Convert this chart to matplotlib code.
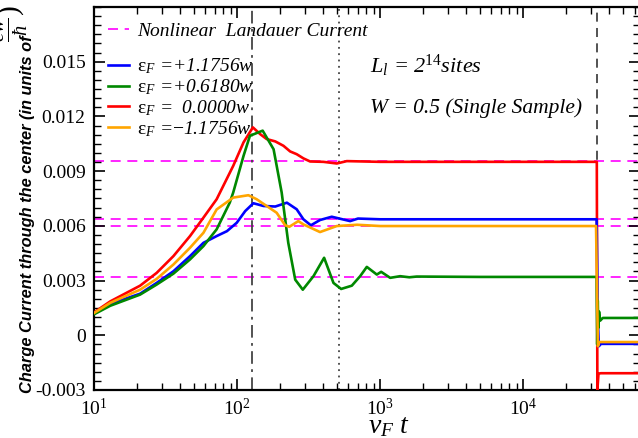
import matplotlib
matplotlib.use('Agg')
import matplotlib.pyplot as plt
from matplotlib.lines import Line2D
from matplotlib.ticker import MultipleLocator, LogLocator, NullFormatter

plt.rcParams['font.family'] = 'Liberation Serif'
plt.rcParams['mathtext.fontset'] = 'custom'
plt.rcParams['mathtext.rm'] = 'Liberation Serif'
plt.rcParams['mathtext.it'] = 'Liberation Serif:italic'
plt.rcParams['mathtext.bf'] = 'Liberation Sans:bold:italic'

# values (time in units of 1/v_F, current in e w / hbar)
t_red = [10, 13, 21, 27.4, 35.9, 46.9, 58.2, 72, 94, 111, 129, 145, 161, 185, 211, 235,
         261, 291, 324, 401, 498, 585, 1000, 5000, 32700, 33000, 33600, 35000, 65536]
i_red = [0.00125, 0.00186, 0.00272, 0.00342, 0.00434, 0.00544, 0.00645, 0.00746, 0.00929,
         0.01058, 0.0114, 0.01103, 0.01076, 0.01063, 0.01039, 0.01008, 0.00993, 0.0097,
         0.00953, 0.00951, 0.00942, 0.00955, 0.00951, 0.00951, 0.00951, -0.0030, -0.0021,
         -0.00208, -0.00208]

t_green = [10, 13, 21, 27.4, 35.9, 46.9, 58.2, 72, 80, 89, 94, 111, 123, 151, 180, 205, 228,
           255, 288, 342, 406, 472, 534, 634, 725, 807, 948, 1017, 1175, 1380, 1600, 1800,
           5000, 32600, 32900, 33200, 33500, 33900, 34500, 36000, 65536]
i_green = [0.00115, 0.00162, 0.00223, 0.00278, 0.00338, 0.00416, 0.00489, 0.00581, 0.00654,
           0.00728, 0.00783, 0.00984, 0.01094, 0.01122, 0.0102, 0.00783, 0.00507, 0.00305,
           0.0025, 0.00324, 0.00425, 0.00287, 0.00254, 0.00272, 0.00324, 0.00375, 0.00333,
           0.00348, 0.00315, 0.00324, 0.00318, 0.00322, 0.0032, 0.0032, -0.0005, 0.0019,
           0.0004, 0.0013, 0.0008, 0.00095, 0.00095]

t_blue = [10, 13, 21, 27.4, 35.9, 46.9, 58.2, 65, 72, 85, 99.5, 114, 130, 153, 185, 223,
          261, 291, 328, 380, 459, 617, 700, 1000, 5000, 32600, 33200, 33800, 35000, 65536]
i_blue = [0.0012, 0.00172, 0.00228, 0.00287, 0.00351, 0.00434, 0.00507, 0.00526, 0.00544,
          0.00571, 0.00617, 0.00681, 0.00724, 0.00709, 0.00706, 0.00727, 0.00691, 0.00636,
          0.00603, 0.00632, 0.0065, 0.00626, 0.0064, 0.00636, 0.00636, 0.00636, 0.0010,
          -0.0006, -0.00047, -0.00047]

t_orange = [10, 13, 21, 27.4, 35.9, 46.9, 58.2, 72, 94, 120, 137, 161, 189, 217, 232, 268,
            291, 380, 498, 690, 1000, 5000, 32300, 32700, 33300, 34000, 65536]
i_orange = [0.00122, 0.00178, 0.0025, 0.00309, 0.00388, 0.0048, 0.00562, 0.0069, 0.00755,
            0.00768, 0.00746, 0.00709, 0.00672, 0.00603, 0.00595, 0.00626, 0.00608, 0.00566,
            0.00599, 0.00606, 0.00599, 0.00599, 0.00599, 0.0032, -0.0006, -0.00037, -0.00037]

landauer = [0.00953, 0.00636, 0.00599, 0.00320]
labels = [r'$\mathrm{ε}_{\mathit{F}}$ =+1.1756w', r'$\mathrm{ε}_{\mathit{F}}$ =+0.6180w',
          r'$\mathrm{ε}_{\mathit{F}}$ =  0.0000w', r'$\mathrm{ε}_{\mathit{F}}$ =$-$1.1756w']
t_marks = [128, 512, 32768]

fig = plt.figure(figsize=(6.38, 4.38), dpi=100)
ax = fig.add_axes([94 / 638, 1 - 390 / 438, 546 / 638, 383 / 438])

for y in landauer:
    ax.axhline(y, color='#ff00ff', lw=1.2, dashes=(6, 4), zorder=1)
ax.axvline(t_marks[0], color='#444444', lw=1.3, dashes=(7, 3, 1.5, 3), zorder=1)
ax.axvline(t_marks[1], color='#444444', lw=1.3, dashes=(1, 2.5), zorder=1)
ax.axvline(t_marks[2], color='#444444', lw=1.3, dashes=(5, 3.5), zorder=1)

ax.plot(t_blue, i_blue, color='#0000ff', lw=1.9, zorder=3)
ax.plot(t_green, i_green, color='#008800', lw=1.9, zorder=3)
ax.plot(t_orange, i_orange, color='#ffa500', lw=1.9, zorder=3)
ax.plot(t_red, i_red, color='#ff0000', lw=1.9, zorder=2.9)

ax.set_xscale('log')
ax.set_xlim(10, 65536)
ax.set_ylim(-0.003, 0.018)
ax.yaxis.set_minor_locator(MultipleLocator(0.0005))
ax.set_yticks([-0.003, 0, 0.003, 0.006, 0.009, 0.012, 0.015])
ax.set_yticklabels(['-0.003', '0', '0.003', '0.006', '0.009', '0.012', '0.015'])
ax.xaxis.set_minor_locator(LogLocator(base=10, subs=range(2, 10)))
ax.xaxis.set_minor_formatter(NullFormatter())
ax.tick_params(which='both', direction='in', top=True, right=True, labelsize=14, pad=6)
ax.tick_params(which='major', length=8, width=1.2)
ax.tick_params(which='minor', length=5, width=1)
for s in ax.spines.values():
    s.set_linewidth(1.6)

ax.set_xlabel(r'$v_F\ t$', fontsize=20)
ax.xaxis.set_label_coords(0.54, -0.063)
ax.set_ylabel('Charge Current through the center (in units of',
              fontsize=11.8, fontweight='bold', fontstyle='italic', family='Liberation Sans')
ax.yaxis.set_label_coords(-0.108, 0.458)
# the e w / hbar unit, drawn larger as in the reference
fig.text(0.018, 1 - 42 / 438, r'$\frac{ew}{\hbar}$)', rotation=90, fontsize=21,
         ha='center', va='bottom')

h0 = [Line2D([], [], color='#ff00ff', lw=1.2, dashes=(6, 4))]
leg0 = ax.legend(h0, ['Nonlinear  Landauer Current'], loc='upper left',
                 bbox_to_anchor=(0.025, 0.96), frameon=False, borderpad=0, borderaxespad=0,
                 handlelength=1.1, handletextpad=0.4, prop={'style': 'italic', 'size': 14})
ax.add_artist(leg0)
h1 = [Line2D([], [], color=c, lw=1.9) for c in ['#0000ff', '#008800', '#ff0000', '#ffa500']]
ax.legend(h1, labels, loc='upper left', bbox_to_anchor=(0.025, 0.87), frameon=False,
          borderpad=0, borderaxespad=0, handlelength=1.1, handletextpad=0.4,
          labelspacing=0.05, prop={'style': 'italic', 'size': 14})

ax.text(0.505, 0.845, r'$L_l$ = 2$^{14}$sites', transform=ax.transAxes, fontsize=16,
        style='italic', va='center')
ax.text(0.505, 0.735, 'W = 0.5 (Single Sample)', transform=ax.transAxes, fontsize=15.5,
        style='italic', va='center')

fig.savefig('out.png', dpi=100)
